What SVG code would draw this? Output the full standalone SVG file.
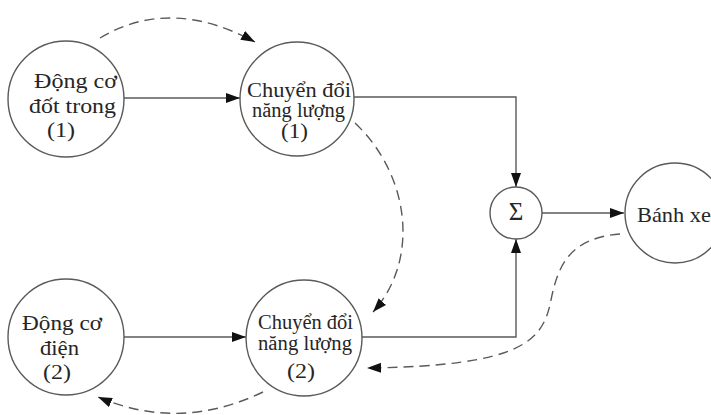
<svg xmlns="http://www.w3.org/2000/svg" width="711" height="415" viewBox="0 0 711 415">
  <style>
    .node { fill: #ffffff; stroke: #5a5a5a; stroke-width: 1.4; }
    .lbl { font-family: "Liberation Serif", "Times New Roman", serif; font-size: 20px; fill: #262626; }
    .flow { fill: none; stroke: #5a5a5a; stroke-width: 1.4; }
    .dash { fill: none; stroke: #5a5a5a; stroke-width: 1.4; stroke-dasharray: 10 6; }
  </style>
  <defs>
    <marker id="arrow" viewBox="0 0 14 10" refX="14" refY="5" markerWidth="14" markerHeight="10" markerUnits="userSpaceOnUse" orient="auto">
      <path d="M0,0 L14,5 L0,10 Z" fill="#111111"/>
    </marker>
  </defs>
  <rect width="711" height="415" fill="#ffffff"/>

  <g id="connectors">
    <!-- solid power paths -->
    <path class="flow" d="M124,98 H240" marker-end="url(#arrow)"/>
    <path class="flow" d="M124,337 H246" marker-end="url(#arrow)"/>
    <path class="flow" d="M354,97 H516 V187" marker-end="url(#arrow)"/>
    <path class="flow" d="M362,337 H516 V239" marker-end="url(#arrow)"/>
    <path class="flow" d="M542,213 H624" marker-end="url(#arrow)"/>
    <!-- dashed energy paths -->
    <path class="dash" d="M100,38 Q170,-4 255,42" marker-end="url(#arrow)"/>
    <path class="dash" d="M355,123 C410,175 420,260 373,312" marker-end="url(#arrow)"/>
    <path class="dash" d="M263,392 Q180,432 98,397" marker-end="url(#arrow)"/>
    <path class="dash" d="M620,234 C570,238 558,265 551,300 C543,340 525,366 367,368" marker-end="url(#arrow)"/>
  </g>

  <g id="ice">
    <circle class="node" cx="66" cy="99" r="58"/>
    <text class="lbl" x="34" y="88" textLength="83" lengthAdjust="spacingAndGlyphs">Động cơ</text>
    <text class="lbl" x="29" y="113" textLength="87" lengthAdjust="spacingAndGlyphs">đốt trong</text>
    <text class="lbl" x="47" y="137" textLength="28" lengthAdjust="spacingAndGlyphs">(1)</text>
  </g>

  <g id="converter1">
    <circle class="node" cx="297" cy="99" r="57"/>
    <text class="lbl" x="247" y="97" textLength="104" lengthAdjust="spacingAndGlyphs">Chuyển đổi</text>
    <text class="lbl" x="252" y="117" textLength="93" lengthAdjust="spacingAndGlyphs">năng lượng</text>
    <text class="lbl" x="281" y="138" textLength="27" lengthAdjust="spacingAndGlyphs">(1)</text>
  </g>

  <g id="emotor">
    <circle class="node" cx="66" cy="337" r="58"/>
    <text class="lbl" x="22" y="330" textLength="80" lengthAdjust="spacingAndGlyphs">Động cơ</text>
    <text class="lbl" x="40" y="355" textLength="39" lengthAdjust="spacingAndGlyphs">điện</text>
    <text class="lbl" x="43" y="379" textLength="28" lengthAdjust="spacingAndGlyphs">(2)</text>
  </g>

  <g id="converter2">
    <circle class="node" cx="304" cy="338" r="58"/>
    <text class="lbl" x="258" y="329" textLength="95" lengthAdjust="spacingAndGlyphs">Chuyển đổi</text>
    <text class="lbl" x="258" y="350" textLength="94" lengthAdjust="spacingAndGlyphs">năng lượng</text>
    <text class="lbl" x="287" y="378" textLength="28" lengthAdjust="spacingAndGlyphs">(2)</text>
  </g>

  <g id="sum">
    <circle class="node" cx="516" cy="213" r="26"/>
    <text class="lbl" x="516" y="220" text-anchor="middle" style="font-size:25px">Σ</text>
  </g>

  <g id="wheel">
    <circle class="node" cx="675" cy="213" r="50"/>
    <text class="lbl" x="637" y="222" style="font-size:21px" textLength="74" lengthAdjust="spacingAndGlyphs">Bánh xe</text>
  </g>
</svg>
